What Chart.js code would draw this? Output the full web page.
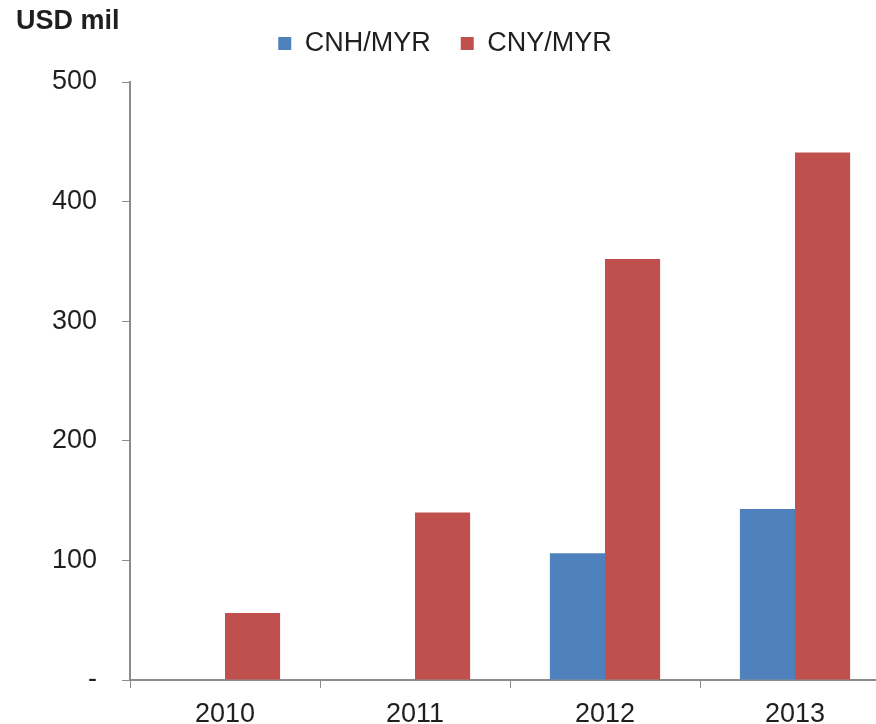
<!DOCTYPE html>
<html lang="en">
<head>
    <meta charset="UTF-8">
    <title>CNH/MYR and CNY/MYR</title>
    <script src="https://cdn.jsdelivr.net/npm/chart.js"></script>
    <style>
        body { margin: 0; overflow: hidden; background: #fff; }
        #wrap { width: 890px; height: 724px; }
    </style>
</head>
<body>
    <div id="wrap"><canvas id="chart" width="890" height="724"></canvas></div>
    <script>
        // data
        const years = ['2010', '2011', '2012', '2013'];
        const cnhMyr = [null, null, 106, 143];
        const cnyMyr = [56, 140, 352, 441];
        const yTicks = [0, 100, 200, 300, 400, 500];

        const font = 'Liberation Sans, Arial, sans-serif';
        const axisGrey = '#8c8c8c';

        // "USD mil" unit label top left
        const unitLabel = {
            id: 'unitLabel',
            afterDraw(chart) {
                const ctx = chart.ctx;
                ctx.save();
                ctx.font = 'bold 27px ' + font;
                ctx.fillStyle = '#1f1f1f';
                ctx.textBaseline = 'middle';
                ctx.fillText('USD mil', 16, 22);
                ctx.restore();
            }
        };

        // give the legend some extra room underneath so the plot starts lower
        const legendGap = {
            id: 'legendGap',
            beforeLayout(chart) {
                const lg = chart.legend;
                if (lg && !lg._gapPatched) {
                    const fit = lg.fit.bind(lg);
                    lg.fit = function () { fit(); this.height += 15; };
                    lg._gapPatched = true;
                }
            }
        };

        new Chart(document.getElementById('chart'), {
            type: 'bar',
            data: {
                labels: years,
                datasets: [
                    { label: 'CNH/MYR', data: cnhMyr, backgroundColor: '#4F81BD' },
                    { label: 'CNY/MYR', data: cnyMyr, backgroundColor: '#C0504D' }
                ]
            },
            plugins: [unitLabel, legendGap],
            options: {
                responsive: false,
                animation: false,
                layout: { padding: 0 },
                datasets: {
                    bar: { categoryPercentage: 0.58, barPercentage: 1.0 }
                },
                plugins: {
                    tooltip: { enabled: false },
                    legend: {
                        display: true,
                        position: 'top',
                        labels: {
                            boxWidth: 13,
                            boxHeight: 13,
                            padding: 30,
                            color: '#1f1f1f',
                            font: { size: 27, family: font }
                        }
                    }
                },
                scales: {
                    x: {
                        grid: {
                            drawOnChartArea: false,
                            tickLength: 8,
                            tickColor: axisGrey
                        },
                        border: { color: axisGrey, width: 2 },
                        ticks: {
                            padding: 10,
                            color: '#1f1f1f',
                            font: { size: 27, family: font }
                        },
                        afterFit(scale) { scale.height = 44; }
                    },
                    y: {
                        min: 0,
                        max: 500,
                        afterBuildTicks(scale) {
                            scale.ticks = yTicks.map(v => ({ value: v }));
                        },
                        grid: {
                            drawOnChartArea: false,
                            tickLength: 8,
                            tickColor: axisGrey
                        },
                        border: { color: axisGrey, width: 2 },
                        ticks: {
                            padding: 25,
                            color: '#1f1f1f',
                            font: { size: 27, family: font },
                            callback: v => v === 0 ? '-' : v
                        },
                        afterFit(scale) { scale.width = 130; }
                    }
                }
            }
        });
    </script>
</body>
</html>
